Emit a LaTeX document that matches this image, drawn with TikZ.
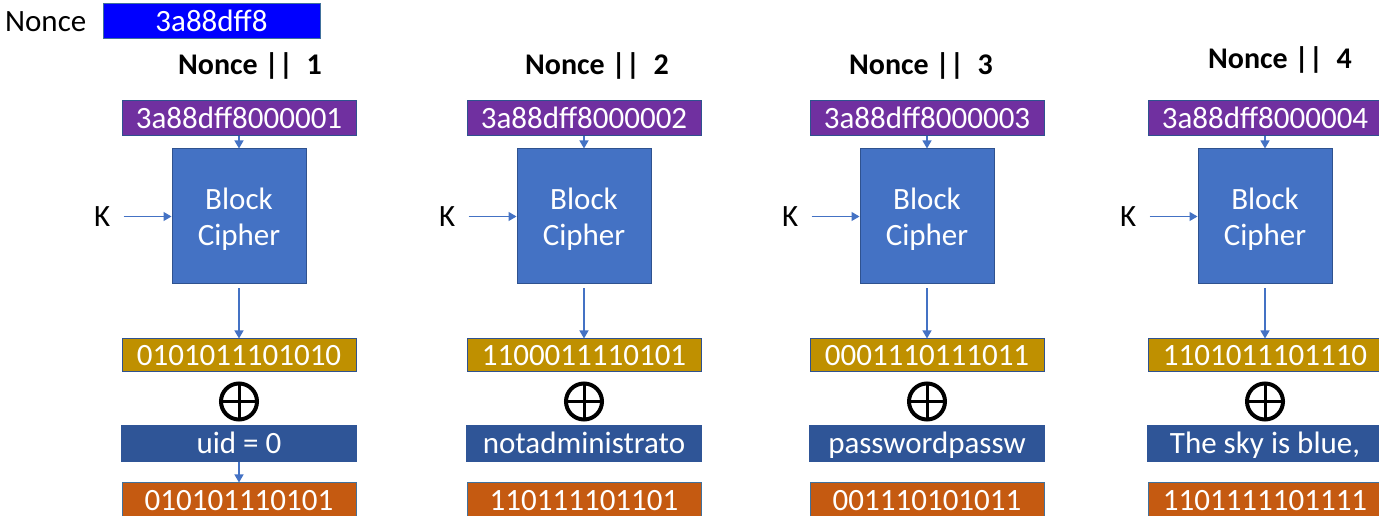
\documentclass[tikz,border=0pt]{standalone}
\usepackage{fontspec}
\setmainfont{Carlito}
\usetikzlibrary{arrows.meta,positioning}
\definecolor{noncefill}{HTML}{0000FF}
\definecolor{ctrpurple}{HTML}{7030A0}
\definecolor{cipherblue}{HTML}{4472C4}
\definecolor{edgeblue}{HTML}{2F528F}
\definecolor{ksgold}{HTML}{BF9000}
\definecolor{ptblue}{HTML}{2F5597}
\definecolor{ctorange}{HTML}{C55A11}
\definecolor{greyedge}{HTML}{41719C}
\tikzset{
  bigfont/.style={font=\fontsize{31}{36}\selectfont},
  bar/.style={draw=edgeblue, line width=1pt, text=white, bigfont, inner sep=0pt,
    minimum width=234pt, minimum height=35pt, text height=19.5pt, text depth=0pt},
  ctrbar/.style={bar, fill=ctrpurple},
  ksbar/.style={bar, fill=ksgold, minimum height=33pt},
  ptbar/.style={bar, fill=ptblue, draw=ptblue, minimum width=235pt, minimum height=36pt},
  ctbar/.style={bar, fill=ctorange, draw=greyedge},
  cipherbox/.style={draw=edgeblue, line width=1pt, fill=cipherblue, text=white, bigfont,
    align=center, minimum width=134pt, minimum height=135pt, inner sep=0pt, text depth=0pt},
  xorop/.style={circle, draw=black, line width=4pt, minimum size=36pt, inner sep=0pt,
    path picture={\draw[line width=3pt]
      (path picture bounding box.north) -- (path picture bounding box.south)
      (path picture bounding box.west) -- (path picture bounding box.east);}},
  lbl/.style={bigfont, inner sep=3pt},
  head/.style={font=\fontsize{30}{36}\selectfont\bfseries},
  flow/.style={->, draw=cipherblue, line width=1.2pt}
}

\begin{document}
\begin{tikzpicture}[x=1pt, y=1pt, >={Triangle[width=9pt,length=8pt]}]
  \useasboundingbox (0,0) rectangle (1379,516);

  % nonce
  \node[bar, fill=noncefill, draw=greyedge, minimum width=217pt] (nonce) at (211.5,494.5) {3a88dff8};
  \node[lbl, left=13pt of nonce] (nlabel) {Nonce};

  % counter block 1
  \node[head] (hd1) at (250,450) {Nonce ||~ 1};
  \node[ctrbar] (ctr1) at (239,397.5) {3a88dff8000001};
  \node[cipherbox, below=12pt of ctr1] (bc1) {Block\\Cipher};
  \node[lbl, left=58pt of bc1] (k1) {K};
  \node[ksbar, below=54pt of bc1] (ks1) {0101011101010};
  \node[xorop, below=9pt of ks1] (xor1) {};
  \node[ptbar, below=4pt of xor1] (pt1) {uid = 0};
  \node[ctbar, below=20pt of pt1] (ct1) {010101110101};
  \draw[flow] (ctr1) -- (bc1);
  \draw[flow, shorten <=10pt] (k1) -- (bc1);
  \draw[flow, shorten <=4pt] (bc1) -- (ks1);
  \draw[flow] (pt1) -- (ct1);

  % counter block 2
  \node[head] (hd2) at (597,450) {Nonce ||~ 2};
  \node[ctrbar] (ctr2) at (584,397.5) {3a88dff8000002};
  \node[cipherbox, below=12pt of ctr2] (bc2) {Block\\Cipher};
  \node[lbl, left=58pt of bc2] (k2) {K};
  \node[ksbar, below=54pt of bc2] (ks2) {1100011110101};
  \node[xorop, below=9pt of ks2] (xor2) {};
  \node[ptbar, below=4pt of xor2] (pt2) {notadministrato};
  \node[ctbar, below=20pt of pt2] (ct2) {110111101101};
  \draw[flow] (ctr2) -- (bc2);
  \draw[flow, shorten <=10pt] (k2) -- (bc2);
  \draw[flow, shorten <=4pt] (bc2) -- (ks2);

  % counter block 3
  \node[head] (hd3) at (921,450) {Nonce ||~ 3};
  \node[ctrbar] (ctr3) at (927,397.5) {3a88dff8000003};
  \node[cipherbox, below=12pt of ctr3] (bc3) {Block\\Cipher};
  \node[lbl, left=58pt of bc3] (k3) {K};
  \node[ksbar, below=54pt of bc3] (ks3) {0001110111011};
  \node[xorop, below=9pt of ks3] (xor3) {};
  \node[ptbar, below=4pt of xor3] (pt3) {passwordpassw};
  \node[ctbar, below=20pt of pt3] (ct3) {001110101011};
  \draw[flow] (ctr3) -- (bc3);
  \draw[flow, shorten <=10pt] (k3) -- (bc3);
  \draw[flow, shorten <=4pt] (bc3) -- (ks3);

  % counter block 4
  \node[head] (hd4) at (1280,456) {Nonce ||~ 4};
  \node[ctrbar] (ctr4) at (1265,397.5) {3a88dff8000004};
  \node[cipherbox, below=12pt of ctr4] (bc4) {Block\\Cipher};
  \node[lbl, left=58pt of bc4] (k4) {K};
  \node[ksbar, below=54pt of bc4] (ks4) {1101011101110};
  \node[xorop, below=9pt of ks4] (xor4) {};
  \node[ptbar, below=4pt of xor4] (pt4) {The sky is blue,};
  \node[ctbar, below=20pt of pt4] (ct4) {1101111101111};
  \draw[flow] (ctr4) -- (bc4);
  \draw[flow, shorten <=10pt] (k4) -- (bc4);
  \draw[flow, shorten <=4pt] (bc4) -- (ks4);
\end{tikzpicture}
\end{document}
